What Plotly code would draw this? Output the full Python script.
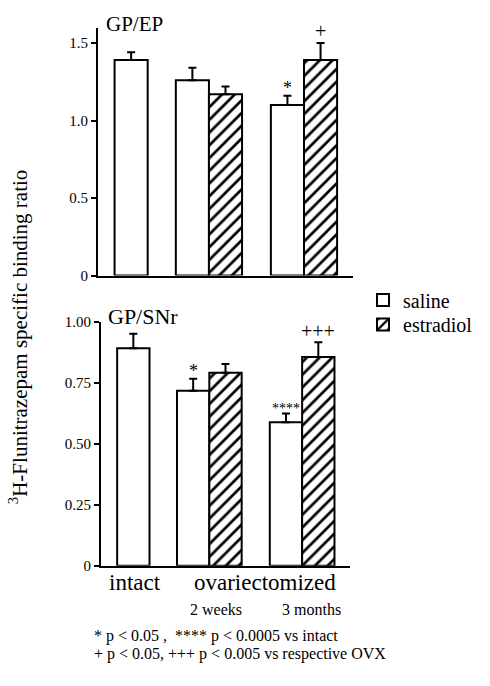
import plotly.graph_objects as go

# ---------------- data ----------------
groups = ["intact", "2 weeks", "3 months"]
ep_saline = [1.39, 1.26, 1.10]
ep_saline_sem = [0.05, 0.08, 0.06]
ep_estradiol = [None, 1.17, 1.39]
ep_estradiol_sem = [None, 0.05, 0.11]

snr_saline = [0.89, 0.716, 0.587]
snr_saline_sem = [0.06, 0.05, 0.036]
snr_estradiol = [None, 0.79, 0.855]
snr_estradiol_sem = [None, 0.036, 0.06]

ep_ticks = [0, 0.5, 1.0, 1.5]
ep_ticktext = ["0", "0.5", "1.0", "1.5"]
snr_ticks = [0, 0.25, 0.5, 0.75, 1.0]
snr_ticktext = ["0", "0.25", "0.50", "0.75", "1.00"]

# ---------------- layout constants ----------------
W, H = 490, 686
FONT = "Liberation Serif"
group_pos = {"intact": 0.0, "2 weeks": 2.35, "3 months": 5.22}
BAR_W = 1.0


def px(x):
    return x / W


def py(y):
    return 1 - y / H


def xs_saline():
    return [group_pos[g] if g == "intact" else group_pos[g] - BAR_W / 2 for g in groups]


def xs_estr():
    return [group_pos[g] + BAR_W / 2 for g in groups]


def err_plus(sems):
    return [s if s is not None else 0 for s in sems]


fig = go.Figure()


def add_panel(sal, sal_sem, est, est_sem, xa, ya, show):
    fig.add_trace(go.Bar(
        x=xs_saline(), y=sal, width=BAR_W, name="saline", showlegend=show, legend="legend",
        marker=dict(color="white", line=dict(color="black", width=2)),
        error_y=dict(type="data", symmetric=False, array=err_plus(sal_sem),
                     arrayminus=[0] * len(sal), color="black", thickness=2, width=4),
        xaxis=xa, yaxis=ya,
    ))
    fig.add_trace(go.Bar(
        x=xs_estr(), y=est, width=BAR_W, name="estradiol", showlegend=show, legend="legend2",
        marker=dict(color="white", line=dict(color="black", width=2),
                    pattern=dict(shape="/", fgcolor="black", bgcolor="white",
                                 fgopacity=1, size=9, solidity=0.3)),
        error_y=dict(type="data", symmetric=False, array=err_plus(est_sem),
                     arrayminus=[0] * len(est), color="black", thickness=2, width=4),
        xaxis=xa, yaxis=ya,
    ))


add_panel(ep_saline, ep_saline_sem, ep_estradiol, ep_estradiol_sem, "x", "y", True)
add_panel(snr_saline, snr_saline_sem, snr_estradiol, snr_estradiol_sem, "x2", "y2", False)

xcommon = dict(range=[-1.0, 6.7], showline=True, linecolor="black", linewidth=2,
               showticklabels=False, ticks="", showgrid=False, zeroline=False)
ycommon = dict(showline=True, linecolor="black", linewidth=2, ticks="outside",
               ticklen=5, tickwidth=1.5, tickcolor="black", showgrid=False,
               zeroline=False, tickfont=dict(family=FONT, size=15, color="black"))

legcommon = dict(xanchor="left", yanchor="middle", bgcolor="rgba(0,0,0,0)",
                 font=dict(family=FONT, size=20, color="black"), itemwidth=30)

fig.update_layout(
    width=W, height=H, margin=dict(l=0, r=0, t=0, b=0),
    paper_bgcolor="white", plot_bgcolor="white", barmode="overlay",
    xaxis=dict(domain=[px(98), px(353)], anchor="y", **xcommon),
    yaxis=dict(domain=[py(274), py(20)], anchor="x", range=[0, 1.6],
               tickvals=ep_ticks, ticktext=ep_ticktext, **ycommon),
    xaxis2=dict(domain=[px(101), px(350)], anchor="y2", **xcommon),
    yaxis2=dict(domain=[py(571), py(321)], anchor="x2", range=[0, 1.0],
                tickvals=snr_ticks, ticktext=snr_ticktext, **ycommon),
    legend=dict(x=px(363), y=py(299), **legcommon),
    legend2=dict(x=px(363), y=py(324), **legcommon),
    font=dict(family=FONT, color="black"),
)

ann = []


def note(text, x, y, size, xanchor="center", yanchor="middle", xref="paper", yref="paper",
         yshift=0, textangle=0):
    ann.append(dict(text=text, x=x, y=y, xref=xref, yref=yref, showarrow=False,
                    xanchor=xanchor, yanchor=yanchor, yshift=yshift, textangle=textangle,
                    font=dict(family=FONT, size=size, color="black")))


# panel titles
note("GP/EP", px(104), py(16), 21, xanchor="left")
note("GP/SNr", px(106), py(316), 22, xanchor="left")

# significance markers, placed above the error bars
i3 = groups.index("3 months")
i2 = groups.index("2 weeks")
note("*", xs_saline()[i3], ep_saline[i3] + ep_saline_sem[i3], 18, xref="x", yref="y", yshift=8)
note("+", xs_estr()[i3], ep_estradiol[i3] + ep_estradiol_sem[i3], 20, xref="x", yref="y", yshift=12)
note("*", xs_saline()[i2], snr_saline[i2] + snr_saline_sem[i2], 18, xref="x2", yref="y2", yshift=8)
note("****", xs_saline()[i3], snr_saline[i3] + snr_saline_sem[i3], 14, xref="x2", yref="y2", yshift=5)
note("+++", xs_estr()[i3], snr_estradiol[i3] + snr_estradiol_sem[i3], 20, xref="x2", yref="y2", yshift=11)

# x labels
note("intact", px(135), py(588), 23)
note("ovariectomized", px(265), py(588), 23)
note("2 weeks", px(216), py(616), 16)
note("3 months", px(311), py(616), 16)

# footnotes
note("* p &lt; 0.05 ,  **** p &lt; 0.0005 vs intact", px(92), py(643), 16, xanchor="left")
note("+ p &lt; 0.05, +++ p &lt; 0.005 vs respective OVX", px(92), py(661), 16, xanchor="left")

# y title
note("<sup>3</sup>H-Flunitrazepam specific binding ratio", px(18), py(337), 21, textangle=-90)

fig.update_layout(annotations=ann)
fig.write_html("out.html")
